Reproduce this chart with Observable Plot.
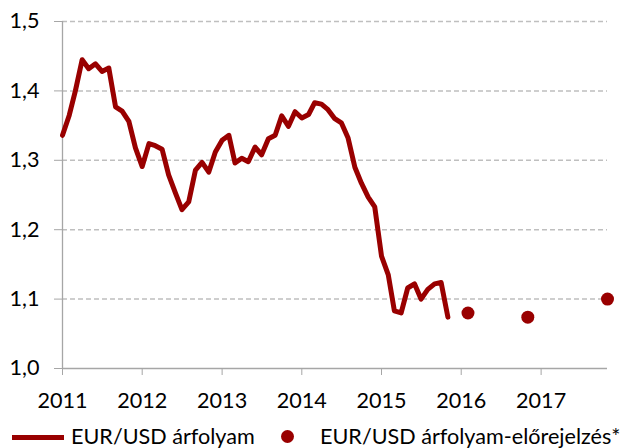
<!DOCTYPE html>
<html>
<head>
<meta charset="utf-8">
<script src="https://cdn.jsdelivr.net/npm/d3@7"></script>
<script src="https://cdn.jsdelivr.net/npm/@observablehq/plot@0.6"></script>
<style>
  html, body { margin: 0; padding: 0; background: #fff; }
  #wrap { position: relative; width: 627px; height: 448px; overflow: hidden; font-family: Lato, sans-serif; }
  .lg { position: absolute; font-size: 21.6px; line-height: 20px; color: #000; white-space: nowrap; }
</style>
</head>
<body>
<div id="wrap">
  <div id="chart"></div>
  <div class="lg" style="left:12px; top:435px; width:52px; height:5px; background:#990000;"></div>
  <div class="lg" style="left:71px; top:426px;">EUR/USD árfolyam</div>
  <div class="lg" style="left:281px; top:430px; width:13px; height:13px; border-radius:50%; background:#990000;"></div>
  <div class="lg" style="left:320px; top:426px;">EUR/USD árfolyam-előrejelzés*</div>
</div>
<script>
// Monthly EUR/USD exchange rate, Jan 2011 – Nov 2015
const lineStartYear = 2011;
const eurUsd = [
  1.336, 1.365, 1.400, 1.445, 1.432, 1.439, 1.428, 1.433, 1.377, 1.371, 1.356, 1.318,
  1.291, 1.324, 1.321, 1.316, 1.279, 1.253, 1.229, 1.240, 1.286, 1.297, 1.283, 1.312,
  1.329, 1.336, 1.296, 1.303, 1.298, 1.319, 1.308, 1.331, 1.336, 1.364, 1.349, 1.370,
  1.361, 1.366, 1.383, 1.381, 1.373, 1.360, 1.354, 1.332, 1.290, 1.267, 1.247, 1.233,
  1.162, 1.135, 1.083, 1.080, 1.116, 1.122, 1.100, 1.114, 1.122, 1.124, 1.074
];
// Forecast points
const forecastMonths = ["2016-02", "2016-11", "2017-11"];
const forecastValues = [1.080, 1.074, 1.100];
// Axis ticks
const yTicks = [1.0, 1.1, 1.2, 1.3, 1.4, 1.5];
const yTickLabels = ["1,0", "1,1", "1,2", "1,3", "1,4", "1,5"];
const xTickYears = [2011, 2012, 2013, 2014, 2015, 2016, 2017];
const xEnd = "2017-11";

const parseMonth = s => { const [y, m] = s.split("-").map(Number); return new Date(Date.UTC(y, m - 1, 1)); };
const lineData = eurUsd.map((v, i) => ({ date: new Date(Date.UTC(lineStartYear, i, 1)), value: v }));
const fcData = forecastMonths.map((m, i) => ({ date: parseMonth(m), value: forecastValues[i] }));
const xTicks = xTickYears.map(y => new Date(Date.UTC(y, 0, 1)));
const red = "#990000";

const chart = Plot.plot({
  width: 627,
  height: 420,
  marginLeft: 62,
  marginRight: 20,
  marginTop: 21,
  marginBottom: 52,
  style: { fontFamily: "Lato, sans-serif", fontSize: "21.6px", color: "#000", background: "white", overflow: "visible" },
  x: { type: "utc", domain: [xTicks[0], parseMonth(xEnd)] },
  y: { domain: [1.0, 1.5] },
  marks: [
    Plot.ruleY(yTicks.filter(d => d > 1.0), { stroke: "#bfbfbf", strokeWidth: 1.5, strokeDasharray: "5,3" }),
    Plot.ruleX([xTicks[0]], { stroke: "#a6a6a6", strokeWidth: 1.3 }),
    Plot.ruleY([1.0], { stroke: "#a6a6a6", strokeWidth: 1.3 }),
    Plot.axisY({ ticks: yTicks, tickFormat: d => yTickLabels[yTicks.indexOf(d)], tickSize: 8, tickPadding: 15, stroke: "#a6a6a6", label: null }),
    Plot.axisX({ ticks: xTicks, tickFormat: d => String(d.getUTCFullYear()), tickSize: 7, tickPadding: 17, stroke: "#a6a6a6", label: null }),
    Plot.lineY(lineData, { x: "date", y: "value", stroke: red, strokeWidth: 5, strokeLinejoin: "round" }),
    Plot.dot(fcData, { x: "date", y: "value", r: 6.5, fill: red, stroke: "none" })
  ]
});
document.getElementById("chart").appendChild(chart);
</script>
</body>
</html>
